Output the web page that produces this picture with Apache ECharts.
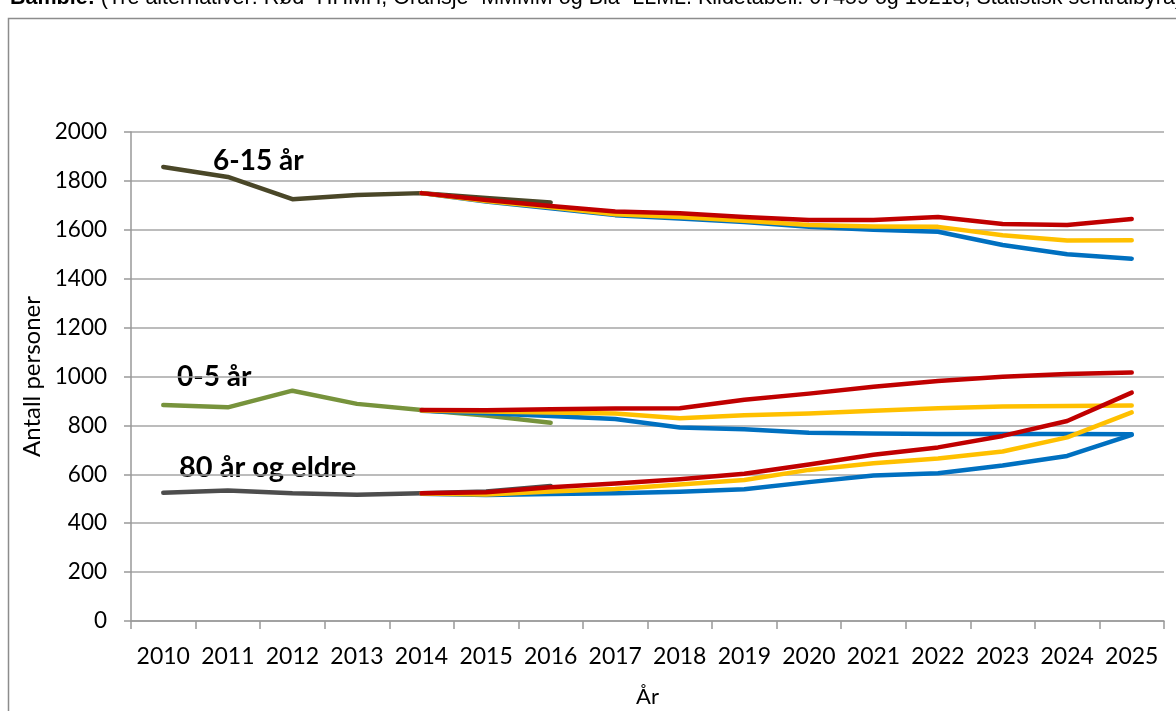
<!DOCTYPE html>
<html>
<head>
<meta charset="utf-8">
<script src="https://cdn.jsdelivr.net/npm/echarts@6/dist/echarts.min.js"></script>
<style>
  html, body { margin: 0; padding: 0; background: #fff; }
  #main { width: 1176px; height: 711px; }
</style>
</head>
<body>
<div id="main"></div>
<script>
var years = ['2010','2011','2012','2013','2014','2015','2016','2017','2018','2019','2020','2021','2022','2023','2024','2025'];
var yTicks = [0, 200, 400, 600, 800, 1000, 1200, 1400, 1600, 1800, 2000];

// registrert (2010-2016)
var hist615 = [1857, 1816, 1725, 1742, 1750, 1730, 1712];
var hist05  = [883, 874, 942, 888, 863, 840, 811];
var hist80  = [525, 534, 522, 516, 522, 530, 552];

// framskrivinger 2014-2025 (Rød=HHMH, Oransje=MMMM, Blå=LLML)
var red615    = [1750, 1722, 1697, 1675, 1668, 1652, 1640, 1640, 1652, 1624, 1620, 1644];
var yellow615 = [1750, 1718, 1692, 1664, 1652, 1637, 1620, 1614, 1612, 1578, 1556, 1557];
var blue615   = [1750, 1716, 1688, 1660, 1646, 1632, 1612, 1600, 1592, 1538, 1500, 1482];

var red05    = [863, 862, 866, 869, 870, 905, 930, 958, 982, 999, 1010, 1016];
var yellow05 = [861, 857, 853, 849, 829, 842, 849, 860, 870, 877, 879, 881];
var blue05   = [860, 850, 838, 826, 791, 784, 770, 767, 765, 765, 765, 764];

var red80    = [522, 527, 547, 562, 580, 602, 640, 680, 710, 757, 818, 934];
var yellow80 = [521, 517, 530, 540, 558, 577, 618, 645, 665, 693, 751, 853];
var blue80   = [520, 515, 519, 522, 529, 539, 568, 595, 604, 636, 675, 761];

var groupLabels = ['6-15 år', '0-5 år', '80 år og eldre'];

function fromStart(arr, start) {
    var out = [];
    for (var i = 0; i < start; i++) out.push(null);
    return out.concat(arr);
}

function line(name, data, color, width) {
    return {
        name: name,
        type: 'line',
        data: data,
        symbol: 'none',
        smooth: false,
        lineStyle: { color: color, width: width, cap: 'round', join: 'round' },
        itemStyle: { color: color },
        z: 2
    };
}

var RED = '#C00000', YELLOW = '#FFC000', BLUE = '#0070C0';
var font = 'Lato, "Open Sans", sans-serif';
var titleFont = '"Liberation Sans", Arial, sans-serif';

var myChart = echarts.init(document.getElementById('main'));
var option = {
    animation: false,
    backgroundColor: '#fff',
    grid: { left: 131, right: 12, top: 132, bottom: 90, outerBoundsMode: 'none', containLabel: false },
    graphic: [
        {
            type: 'rect',
            shape: { x: 8.5, y: 18.5, width: 1200, height: 720 },
            style: { fill: 'none', stroke: '#8c8c8c', lineWidth: 1.5 },
            silent: true
        },
        {
            type: 'text',
            x: 10,
            y: 9,
            style: {
                text: '{b|Bamble:} (Tre alternativer: Rød=HHMH, Oransje=MMMM og Blå=LLML. Kildetabell: 07459 og 10213, Statistisk sentralbyrå)',
                fontSize: 21.5,
                fontFamily: titleFont,
                fill: '#000',
                verticalAlign: 'bottom',
                rich: {
                    b: { fontWeight: 'bold', fontSize: 21.5, fontFamily: titleFont }
                }
            }
        },
        {
            type: 'text', x: 213, y: 161,
            style: { text: groupLabels[0], font: 'bold 28px ' + font, fill: '#000', verticalAlign: 'middle' }
        },
        {
            type: 'text', x: 177, y: 377,
            style: { text: groupLabels[1], font: 'bold 28px ' + font, fill: '#000', verticalAlign: 'middle' }
        },
        {
            type: 'text', x: 179, y: 468,
            style: { text: groupLabels[2], font: 'bold 29px ' + font, fill: '#000', verticalAlign: 'middle' }
        }
    ],
    xAxis: {
        type: 'category',
        data: years,
        boundaryGap: true,
        name: 'År',
        nameLocation: 'middle',
        nameGap: 65,
        nameTextStyle: { fontSize: 22, fontFamily: font, color: '#000' },
        axisLine: { lineStyle: { color: '#999', width: 1.5 } },
        axisTick: { show: true, interval: 0, length: 8, lineStyle: { color: '#999', width: 1.5 } },
        axisLabel: { interval: 0, hideOverlap: false, fontSize: 23, fontFamily: font, color: '#000', margin: 24 },
        splitLine: { show: false }
    },
    yAxis: {
        type: 'value',
        min: yTicks[0],
        max: yTicks[yTicks.length - 1],
        interval: 200,
        name: 'Antall personer',
        nameLocation: 'middle',
        nameGap: 87,
        nameRotate: 90,
        nameTextStyle: { fontSize: 24, fontFamily: font, color: '#000' },
        axisLine: { show: true, lineStyle: { color: '#999', width: 1.5 } },
        axisTick: { show: true, inside: false, length: 7, lineStyle: { color: '#999', width: 1.5 } },
        axisLabel: {
            fontSize: 22.5, fontFamily: font, color: '#000', margin: 24,
            formatter: function (v) { return String(v); }
        },
        splitLine: { show: true, lineStyle: { color: '#a6a6a6', width: 1.5 } }
    },
    series: [
        line('6-15 år registrert', hist615, '#4A4728', 4.5),
        line('0-5 år registrert', hist05, '#77933C', 4.5),
        line('80+ registrert', hist80, '#4D4D4D', 4.5),
        line('6-15 år LLML', fromStart(blue615, 4), BLUE, 4.5),
        line('0-5 år LLML', fromStart(blue05, 4), BLUE, 4.5),
        line('80+ LLML', fromStart(blue80, 4), BLUE, 4.5),
        line('6-15 år MMMM', fromStart(yellow615, 4), YELLOW, 4.5),
        line('0-5 år MMMM', fromStart(yellow05, 4), YELLOW, 4.5),
        line('80+ MMMM', fromStart(yellow80, 4), YELLOW, 4.5),
        line('6-15 år HHMH', fromStart(red615, 4), RED, 4.5),
        line('0-5 år HHMH', fromStart(red05, 4), RED, 4.5),
        line('80+ HHMH', fromStart(red80, 4), RED, 4.5)
    ]
};
myChart.setOption(option);
</script>
</body>
</html>
